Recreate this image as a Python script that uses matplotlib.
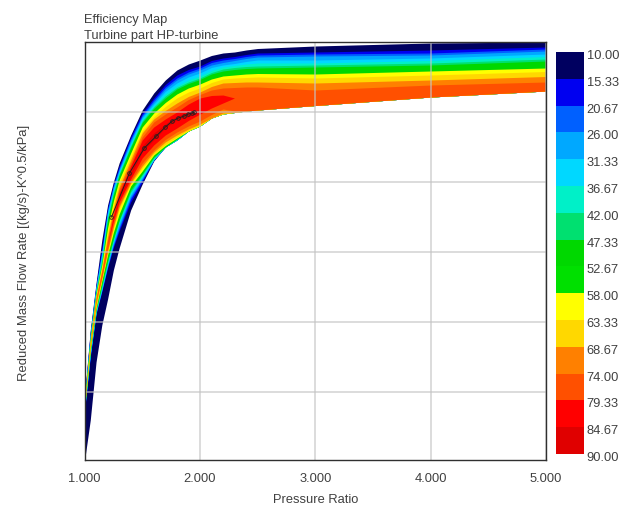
import numpy as np
import matplotlib
matplotlib.use("Agg")
import matplotlib.pyplot as plt
from matplotlib.colors import ListedColormap
from matplotlib.transforms import ScaledTranslation

plt.rcParams["font.family"] = ["Liberation Sans", "DejaVu Sans"]

nan = np.nan
text_color = "#404040"

# Pressure ratio stations where the map bands were read
pressure_ratio = [1.0, 1.05, 1.1, 1.15, 1.2, 1.25, 1.3, 1.4, 1.5, 1.6, 1.7, 1.8, 1.9, 2.0, 2.1, 2.2, 2.3, 2.4, 2.5, 3.0, 4.0, 5.0]

# Upper edge of each efficiency region (reduced flow, y axis labels are unreadable in the source)
upper_10 = [65, 132, 179, 222, 257, 280, 299, 327, 352, 369, 382, 392, 398, 402, 406.5, 409, 410, 412, 413.5, 416, 419, 420]
upper_15 = [64, 130, 177, 215, 254, 277.5, 296, 325, 349, 364, 377.5, 387, 392.5, 396, 401.5, 404, 405.5, 407.5, 409, 410, 412, 415]
upper_21 = [63, 129, 175.5, 211, 252, 276, 294, 323, 347, 362, 375, 384, 390, 394, 399.5, 402, 403.5, 405.5, 407, 408, 409, 413]
upper_26 = [62, 128, 175, 209, 250.5, 275, 292.5, 321.5, 345.5, 360, 373, 382, 388, 392, 397, 399.5, 401.5, 403.5, 405, 406, 407, 411]
upper_31 = [61, 127, 173.5, 207.5, 249, 273, 291, 319, 344, 358, 370.5, 379, 385, 389, 394.5, 397, 398.5, 400.5, 402, 402, 404, 408]
upper_37 = [60, 126, 172, 205, 245, 270, 289, 317, 342, 356, 368, 376, 382, 386, 391.5, 395, 396.5, 398, 399, 399, 401.5, 405.5]
upper_42 = [59.5, 125, 171, 202, 243.5, 269, 288, 316, 341, 355, 366, 374.5, 380, 384, 389.5, 393, 394.5, 395.5, 396, 397, 399, 403]
upper_47 = [59, 124, 169, 199, 242, 267, 286.5, 314.5, 339.5, 353.5, 364, 373, 378.5, 382.5, 388, 391, 392.5, 393.5, 394, 395, 397, 401]
upper_58 = [58, 122, 167.5, 197, 234, 261, 282, 309, 335, 349, 359.5, 368, 374, 378, 383, 386, 387, 388, 388.5, 388, 391, 394]
upper_63 = [57, 121, 166, 194, 229, 257, 279, 305, 331, 345, 355.5, 364, 370, 374, 379.5, 383, 384, 384.5, 385, 384, 387, 390.5]
upper_69 = [56.5, 120, 164.5, 192, 225, 253, 275, 302, 329, 343, 351.5, 359, 365.5, 370, 375.5, 379, 379.5, 380, 380, 379, 382, 385.5]
upper_74 = [56, 119, 163, 190, 222, 250, 272.5, 299, 325, 340, 348, 355, 362.5, 367.5, 372, 374, 374.5, 375, 375, 372, 377, 380]
upper_79 = [nan, nan, nan, nan, 218, 246, 269, 296, 322, 335, 343, 350, 358, 364, 366.5, 367, 364, nan, nan, nan, nan, nan]
upper_85 = [nan, nan, nan, nan, nan, nan, 264, 290, 316, 329, 338, 346, 350, 352, nan, nan, nan, nan, nan, nan, nan, nan]

# Lower edge of the same regions
lower_10 = [1, 42, 100, 137, 163, 192, 214, 252, 278, 301, 315, 322, 331, 336, 344, 348, 349.5, 351, 352, 356.5, 365, 371]
lower_15 = [50, 105, 148, 170.5, 194, 214.5, 231, 260, 280, 302, 315, 322, 331, 336, 344, 348, 349.5, 351, 352, 356.5, 365, 371]
lower_21 = [51, 106, 148.5, 171, 195, 216, 233, 263, 282, 302, 315, 322, 331, 336, 344, 348, 349.5, 351, 352, 356.5, 365, 371]
lower_26 = [51.5, 107, 149, 172, 196, 217.5, 235, 265, 283, 302, 315, 322, 331, 336, 344, 348, 349.5, 351, 352, 356.5, 365, 371]
lower_31 = [52, 108, 150, 173, 197, 219.5, 238, 267, 284.5, 302.5, 315, 322, 331, 336, 344, 348, 349.5, 351, 352, 356.5, 365, 371]
lower_37 = [52.5, 109, 150.5, 174, 199, 221.5, 240, 269, 285.5, 303, 315, 322, 331, 336, 344, 348, 349.5, 351, 352, 356.5, 365, 371]
lower_42 = [53, 110, 151, 175, 200, 222.5, 241, 270, 287, 304, 315, 322.5, 331, 336, 344, 348, 349.5, 351, 352, 356.5, 365, 371]
lower_47 = [53.5, 111, 152, 177, 201, 223.5, 242, 272, 288, 305, 315, 323, 331, 336, 344, 348, 349.5, 351, 352, 356.5, 365, 371]
lower_58 = [54, 113, 154, 181, 207, 229.5, 248, 276, 291, 307, 316.5, 324, 331, 336, 344, 348, 349.5, 351, 352, 356.5, 365, 371]
lower_63 = [54.5, 114, 156, 182.5, 209, 233, 253, 278, 294, 308, 317.5, 325, 331.5, 336.5, 344, 348, 349.5, 351, 352, 356.5, 365, 371]
lower_69 = [55, 115, 158, 184, 211, 235, 255, 279, 296, 310, 320, 327, 333, 338, 344, 349, 349.5, 351, 352, 356.5, 365, 371]
lower_74 = [56, 119, 161.5, 185, 213, 237, 257, 280.5, 299, 312, 322.5, 330, 336, 341, 347.5, 353, 351, 351, 352, 356.5, 365, 371]
lower_79 = [nan, nan, nan, nan, 218, 241, 260, 283, 304, 317, 327, 334, 341.5, 348, 354, 359, 364, nan, nan, nan, nan, nan]
lower_85 = [nan, nan, nan, nan, nan, nan, 264, 286, 310, 322, 334, 342, 345, 352, nan, nan, nan, nan, nan, nan, nan, nan]

# Running line with its markers
line_pr = [1.234, 1.390, 1.519, 1.623, 1.701, 1.762, 1.814, 1.866, 1.900, 1.935, 1.952]
line_flow = [245, 289, 314, 326, 335, 341, 344, 346, 348, 349, 350]

# Colour scale
levels = [10.00, 15.33, 20.67, 26.00, 31.33, 36.67, 42.00, 47.33, 52.67, 58.00, 63.33, 68.67, 74.00, 79.33, 84.67, 90.00]
level_labels = ["10.00", "15.33", "20.67", "26.00", "31.33", "36.67", "42.00", "47.33", "52.67", "58.00", "63.33", "68.67", "74.00", "79.33", "84.67", "90.00"]
band_colors = ["#000060", "#0000f0", "#0060ff", "#00a8ff", "#00d8ff", "#00f0c8", "#00e070", "#00d800",
               "#00e000", "#ffff00", "#ffd800", "#ff8000", "#ff5000", "#ff0000", "#e00000"]

pr_ticks = [1, 2, 3, 4, 5]
pr_labels = ["1.000", "2.000", "3.000", "4.000", "5.000"]
flow_ticks = [70, 140, 210, 280, 350]

W, H = 622, 507
fig = plt.figure(figsize=(W / 100, H / 100), dpi=100)
ax = fig.add_axes([84.5 / W, (H - 460) / H, 461.5 / W, 418 / H])

# Regions are nested, so paint from the outside in (52.67 band shares the 47.33 green here)
uppers = [upper_10, upper_15, upper_21, upper_26, upper_31, upper_37, upper_42, upper_47,
          upper_58, upper_63, upper_69, upper_74, upper_79, upper_85]
lowers = [lower_10, lower_15, lower_21, lower_26, lower_31, lower_37, lower_42, lower_47,
          lower_58, lower_63, lower_69, lower_74, lower_79, lower_85]
map_colors = band_colors[:8] + band_colors[9:]
for up, low, col in zip(uppers, lowers, map_colors):
    ax.fill_between(pressure_ratio, low, up, color=col, linewidth=0, zorder=2)

ax.plot(line_pr, line_flow, color="#202020", lw=0.7, marker="o", ms=2.6, mfc="none", mew=0.6, zorder=4)

ax.set_xlim(1, 5)
ax.set_ylim(2, 420)
ax.set_xticks(pr_ticks)
ax.set_xticklabels(pr_labels)
ax.set_yticks(flow_ticks)
ax.set_yticklabels([])
ax.tick_params(length=0, labelsize=9.3, labelcolor=text_color, pad=9)
ax.grid(color="#c4c4c4", lw=1.2, alpha=0.7, zorder=3)
ax.set_axisbelow(False)
for s in ax.spines.values():
    s.set_color("#303030")
    s.set_linewidth(1)
    s.set_zorder(5)

ax.set_xlabel("Pressure Ratio", fontsize=9.3, color=text_color, labelpad=7)
ax.set_ylabel("Reduced Mass Flow Rate [(kg/s)-K^0.5/kPa]", fontsize=9.4, color=text_color)
ax.yaxis.set_label_coords(-0.137 + 9 / 461.5, 0.495)
ax.set_title("Efficiency Map\nTurbine part HP-turbine", loc="left", fontsize=9.3, color=text_color, pad=1, linespacing=1.45)

# Colour bar with the scale running downwards
cax = fig.add_axes([556 / W, (H - 454) / H, 28 / W, 402 / H])
cax.pcolormesh([0, 1], levels, np.arange(15).reshape(-1, 1), cmap=ListedColormap(band_colors), shading="flat")
cax.set_ylim(90, 10)
cax.set_xticks([])
cax.yaxis.tick_right()
cax.set_yticks(levels)
cax.set_yticklabels(level_labels)
cax.tick_params(length=0, labelsize=9.3, labelcolor=text_color, pad=2)
shift = ScaledTranslation(0, -2.5 / 100, fig.dpi_scale_trans)
for lab in cax.get_yticklabels():
    lab.set_transform(lab.get_transform() + shift)
for s in cax.spines.values():
    s.set_visible(False)

fig.savefig("out.png", dpi=100)
